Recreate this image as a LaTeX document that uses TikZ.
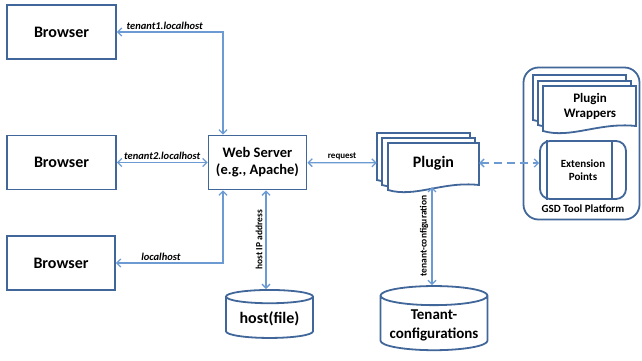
\documentclass[tikz,border=0pt]{standalone}
\usepackage{fontspec}
\setmainfont{Carlito}
\usetikzlibrary{shapes.geometric,arrows.meta,calc}

\definecolor{boxblue}{HTML}{41679A}
\definecolor{linkblue}{HTML}{6C9AD2}

\tikzset{
  box/.style={rectangle, draw=boxblue, line width=1.8pt, fill=white, align=center},
  db/.style={cylinder, shape border rotate=90, aspect=0.2, draw=boxblue, line width=1.8pt, fill=white, align=center},
  doc/.style={draw=boxblue, line width=1.8pt, fill=white},
  link/.style={draw=linkblue, line width=1.3pt, {Straight Barb[length=4pt,width=8pt]}-{Straight Barb[length=4pt,width=8pt]}},
  lbl/.style={font=\bfseries\itshape\fontsize{10.5}{12}\selectfont, inner sep=2pt},
  vlbl/.style={font=\bfseries\fontsize{9.5}{11}\selectfont, inner sep=3pt, rotate=90},
  bigtext/.style={font=\bfseries\fontsize{16}{19}\selectfont},
}

% document shape with wavy bottom: x1 y1 x2 y2
\newcommand{\docshape}[4]{%
  \path[doc] (#1,#2) -- (#3,#2) -- (#3,{#4-5}) .. controls ({#3-0.4*(#3-#1)},{#4-9}) and ({#1+0.3*(#3-#1)},{#4+8}) .. (#1,#4) -- cycle;}

\begin{document}
\begin{tikzpicture}[x=1pt, y=-1pt]
\useasboundingbox (0,0) rectangle (642,360);

% platform
\node (gsd) [draw=boxblue, line width=1.8pt, rounded corners=15pt, minimum width=116pt, minimum height=152pt] at (581.5,143.5) {};
\node (gsdlbl) [font=\bfseries\fontsize{11}{13}\selectfont] at (583,209) {GSD Tool Platform};
\docshape{533}{75}{626}{120}
\docshape{538}{81}{631}{125}
\docshape{543}{86}{636}{131}
\node (wrap) [font=\bfseries\fontsize{13}{15}\selectfont, align=center] at (590,106) {Plugin\\Wrappers};
\node (ext) [box, rounded corners=10pt, minimum width=86pt, minimum height=58pt, font=\bfseries\fontsize{11}{13}\selectfont] at (583,170) {Extension\\Points};
\draw [boxblue, line width=1.8pt] ($(ext.north west)+(8,0)$) -- ($(ext.south west)+(8,0)$);
\draw [boxblue, line width=1.8pt] ($(ext.north east)+(-15,0)$) -- ($(ext.south east)+(-15,0)$);

% plugin stack
\docshape{377}{133}{470}{180}
\docshape{382}{138}{475}{185}
\docshape{388}{143}{479}{190}
\node (plugin) [bigtext, minimum width=102pt, minimum height=40pt, inner sep=0pt] at (428,163) {\hspace*{11pt}Plugin};
\coordinate (pb) at (432,187);

% browsers and server
\node (b1) [box, bigtext, minimum width=109pt, minimum height=54pt] at (61.5,32) {Browser};
\node (b2) [box, bigtext, minimum width=109pt, minimum height=54pt] at (61.5,162.5) {Browser};
\node (b3) [box, bigtext, minimum width=108pt, minimum height=54pt] at (61,263) {Browser};
\node (web) [box, minimum width=98pt, minimum height=54pt, font=\bfseries\fontsize{14.5}{17}\selectfont] at (257.5,162.5) {Web Server\\(e.g., Apache)};

% stores
\node (hf) [db, bigtext, minimum width=87pt, minimum height=48pt] at (269.5,319) {host(file)};
\node (tc) [db, font=\bfseries\fontsize{15}{19}\selectfont, minimum width=107pt, minimum height=60pt] at (434,325) {Tenant-\\configurations};

\coordinate (tx) at (223,0);
\coordinate (hx) at (266,0);

% connectors
\draw [link] (b1) -- node [lbl, above, pos=0.45] {tenant1.localhost} (b1 -| tx) -- (web.north -| tx);
\draw [link] (b2) -- node [lbl, above] {tenant2.localhost} (web);
\draw [link] (b3) -- node [lbl, above, pos=0.42] {localhost} (b3 -| tx) -- (web.south -| tx);
\draw [link] (web.south -| hx) -- node [vlbl, above] {host IP address} (hf.north -| hx);
\draw [link] (web) -- node [above, font=\bfseries\fontsize{9}{10}\selectfont, inner sep=2pt] {request} (plugin);
\draw [link] (pb) -- node [vlbl, above] {tenant-configuration} (tc.north -| pb);
\draw [link, dash pattern=on 8pt off 5pt] (plugin.east) -- (ext.west |- plugin.east);
\end{tikzpicture}
\end{document}
